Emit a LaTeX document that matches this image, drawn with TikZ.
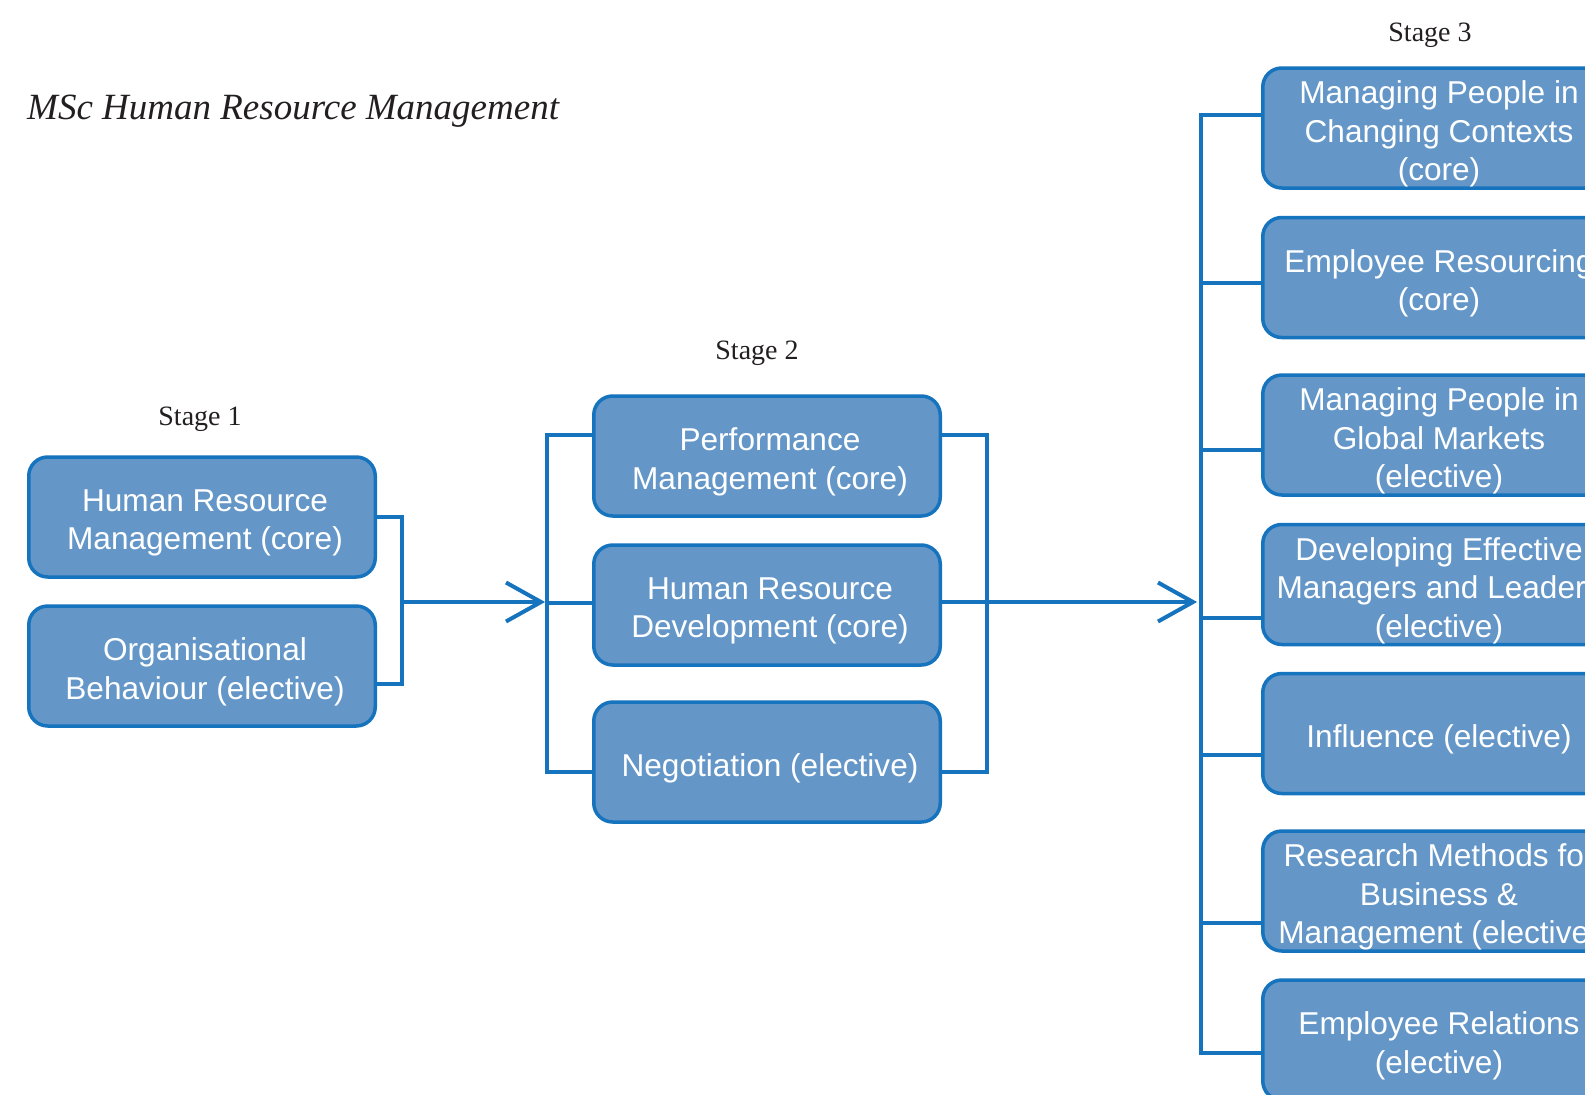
\documentclass[tikz,border=0pt]{standalone}
\usepackage{fontspec}
\setmainfont{Liberation Serif}
\newfontfamily\boxfont{Liberation Sans}
\usetikzlibrary{calc}
\definecolor{boxfill}{RGB}{100,151,200}
\definecolor{boxline}{RGB}{22,115,189}
\definecolor{ink}{RGB}{35,31,32}
% a module box: name, centre, text
\newcommand\modnode[3]{%
  \node[modbox] (#1) at #2 {};
  \node[modtext] (#1-t) at ($(#1.center)+(3,6)$) {#3};}
\begin{document}
\begin{tikzpicture}[x=1pt,y=-1pt,
  modbox/.style={draw=boxline, fill=boxfill, line width=3.5pt, rounded corners=19pt,
    minimum width=346.5pt, minimum height=120pt, inner sep=0pt},
  modtext/.style={inner sep=0pt, text=white, align=center,
    font=\boxfont\fontsize{31.6}{38.5}\selectfont},
  conn/.style={draw=boxline, line width=4pt, line join=miter},
  stagelbl/.style={font=\fontsize{28}{30}\selectfont, anchor=base, inner sep=0pt, text=ink}]
\useasboundingbox (0,0) rectangle (1585,1095);
\clip (0,0) rectangle (1585,1095);

% title and stage labels
\node[anchor=base west, inner sep=0pt, text=ink, font=\itshape\fontsize{37}{40}\selectfont] (title) at (27,119) {MSc Human Resource Management};
\node[stagelbl] (st1) at (200,425) {Stage 1};
\node[stagelbl] (st2) at (757,359) {Stage 2};
\node[stagelbl] (st3) at (1430,41) {Stage 3};

% stage 1
\modnode{hrm}{(202,517)}{Human Resource\\Management (core)}
\modnode{ob}{(202,666)}{Organisational\\Behaviour (elective)}

% stage 2
\modnode{pm}{(767,456)}{Performance\\Management (core)}
\modnode{hrd}{(767,605)}{Human Resource\\Development (core)}
\modnode{neg}{(767,762)}{Negotiation (elective)}

% stage 3
\modnode{s3a}{(1436,128)}{Managing People in\\Changing Contexts\\(core)}
\modnode{s3b}{(1436,277.5)}{Employee Resourcing\\(core)}
\modnode{s3c}{(1436,435)}{Managing People in\\Global Markets\\(elective)}
\modnode{s3d}{(1436,584.5)}{Developing Effective\\Managers and Leaders\\(elective)}
\modnode{s3e}{(1436,733.5)}{Influence (elective)}
\modnode{s3f}{(1436,891)}{Research Methods for\\Business \&\\Management (elective)}
\modnode{s3g}{(1436,1040)}{Employee Relations\\(elective)}

% junction coordinates
\coordinate (j1) at (402,602);
\coordinate (tip1) at (541,602);
\coordinate (j2) at (987,602);
\coordinate (tip2) at (1193,602);

% stage 1 bracket and arrow
\draw[conn] (hrm.east |- 0,517) -- (402,517) -- (402,684) -- (ob.east |- 0,684);
\draw[conn] (j1) -- (tip1);
\draw[conn] ($(tip1)+(-35,-19.5)$) -- (tip1) -- ($(tip1)+(-35,19.5)$);

% stage 2 brackets
\draw[conn] (pm.west |- 0,435) -- (547,435) -- (547,772) -- (neg.west |- 0,772);
\draw[conn] (547,603) -- (hrd.west |- 0,603);
\draw[conn] (pm.east |- 0,435) -- (987,435) -- (987,772) -- (neg.east |- 0,772);
\draw[conn] (hrd.east |- 0,602) -- (tip2);
\draw[conn] ($(tip2)+(-35,-19.5)$) -- (tip2) -- ($(tip2)+(-35,19.5)$);

% stage 3 trunk
\draw[conn] (s3a.west |- 0,115) -- (1201,115) -- (1201,1053) -- (s3g.west |- 0,1053);
\draw[conn] (1201,283) -- (s3b.west |- 0,283);
\draw[conn] (1201,450) -- (s3c.west |- 0,450);
\draw[conn] (1201,618) -- (s3d.west |- 0,618);
\draw[conn] (1201,755) -- (s3e.west |- 0,755);
\draw[conn] (1201,923) -- (s3f.west |- 0,923);
\end{tikzpicture}
\end{document}
